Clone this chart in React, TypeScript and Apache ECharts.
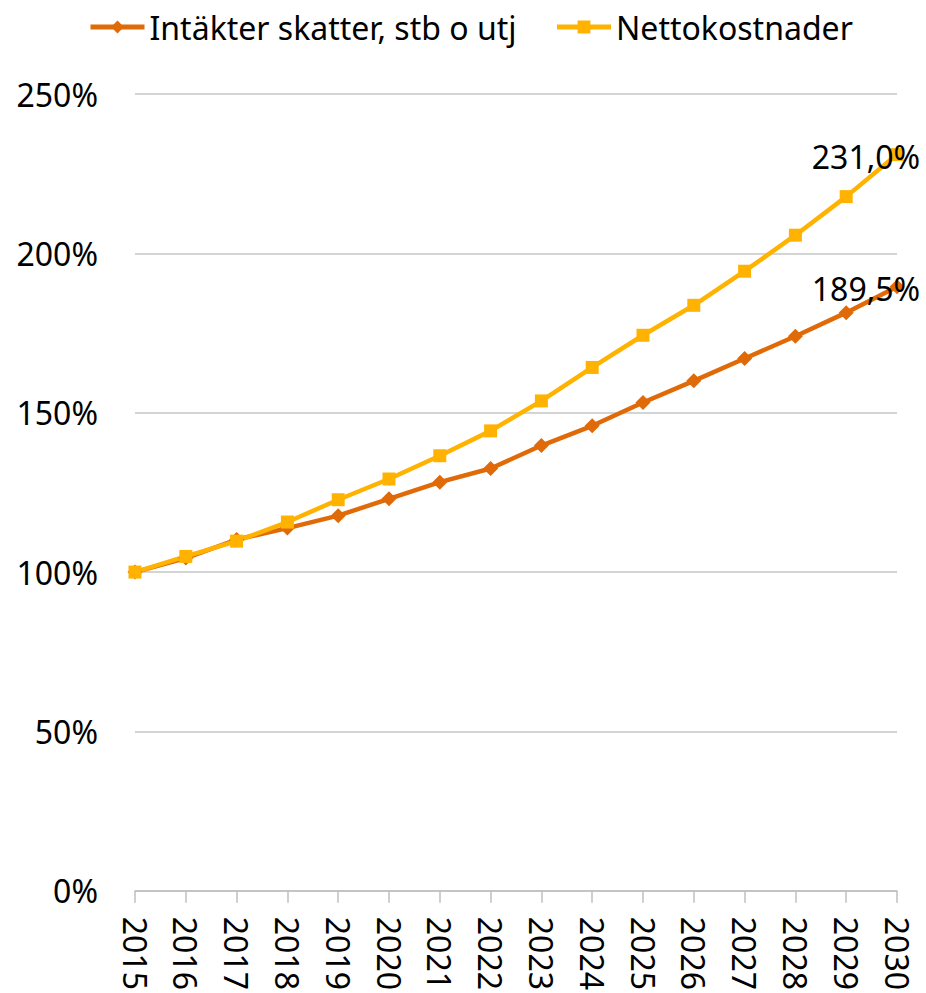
import React, { useEffect, useRef } from "react";
import * as echarts from "echarts";

const years = ["2015","2016","2017","2018","2019","2020","2021","2022","2023","2024","2025","2026","2027","2028","2029","2030"];
const intakter = [100, 104.4, 110.2, 113.8, 117.7, 123.0, 128.2, 132.5, 139.7, 145.9, 153.2, 160.0, 167.0, 174.0, 181.4, 189.5];
const nettokostnader = [100, 104.9, 109.7, 115.7, 122.7, 129.2, 136.5, 144.3, 153.7, 164.2, 174.3, 183.7, 194.4, 205.7, 217.8, 231.0];
const seriesNames = ["Intäkter skatter, stb o utj", "Nettokostnader"];

const FONT = "'Noto Sans', sans-serif";
const fmtPct = (v: number) => v.toFixed(1).replace(".", ",") + "%";

export default function App() {
  const ref = useRef<HTMLDivElement>(null);
  useEffect(() => {
    if (!ref.current) return;
    const chart = echarts.init(ref.current, undefined, { renderer: "svg" });
    const lastLabel = (data: number[]) =>
      data.map((v, i) =>
        i === data.length - 1
          ? {
              value: v,
              label: {
                show: true,
                position: "inside",
                offset: [-31, 2],
                formatter: () => fmtPct(v),
                color: "#000",
                fontSize: 32,
                fontFamily: FONT,
              },
            }
          : v
      );
    chart.setOption({
      animation: false,
      textStyle: { fontFamily: FONT },
      legend: {
        left: 83,
        top: 6,
        itemWidth: 54,
        itemHeight: 16,
        itemGap: 38,
        itemStyle: {},
        lineStyle: { width: 5 },
        textStyle: { fontSize: 32, color: "#000", fontFamily: FONT },
        data: seriesNames,
      },
      grid: { left: 135, right: 29, top: 94, bottom: 100, containLabel: false },
      xAxis: {
        type: "category",
        data: years,
        boundaryGap: false,
        axisLine: { lineStyle: { color: "#bfbfbf", width: 1.5 } },
        axisTick: { show: true, length: 12, alignWithLabel: true, lineStyle: { color: "#bfbfbf", width: 1.5 } },
        axisLabel: {
          rotate: -90,
          margin: 26,
          fontSize: 32,
          color: "#000",
          fontFamily: FONT,
          interval: 0,
        },
      },
      yAxis: {
        type: "value",
        min: 0,
        max: 250,
        interval: 50,
        axisLine: { show: false },
        axisTick: { show: false },
        splitLine: { lineStyle: { color: "#c6c6c6", width: 1.5 } },
        axisLabel: {
          formatter: "{value}%",
          fontSize: 32,
          color: "#000",
          fontFamily: FONT,
          margin: 37,
        },
      },
      series: [
        {
          name: seriesNames[0],
          type: "line",
          data: lastLabel(intakter),
          symbol: "diamond",
          symbolSize: 15,
          lineStyle: { color: "#E06A07", width: 4.5 },
          itemStyle: { color: "#E06A07" },
        },
        {
          name: seriesNames[1],
          type: "line",
          data: lastLabel(nettokostnader),
          symbol: "rect",
          symbolSize: 13,
          lineStyle: { color: "#FFB300", width: 4.5 },
          itemStyle: { color: "#FFB300" },
        },
      ],
    });
    return () => chart.dispose();
  }, []);
  return (
    <div
      ref={ref}
      style={{ position: "fixed", left: 0, top: 0, width: 926, height: 993, background: "#fff" }}
    />
  );
}
